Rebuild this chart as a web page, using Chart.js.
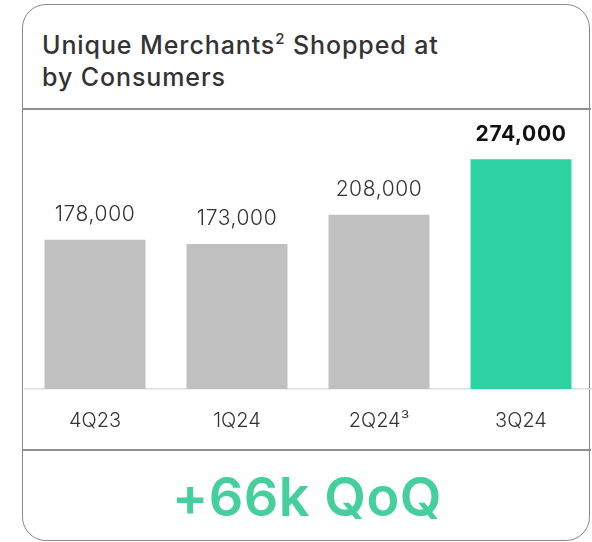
<!DOCTYPE html>
<html>
<head>
<meta charset="utf-8">
<script src="https://cdn.jsdelivr.net/npm/chart.js@4.4.1/dist/chart.umd.min.js"></script>
<style>
  html, body { margin:0; padding:0; background:#fff; width:592px; height:542px; overflow:hidden; }
  #card { position:absolute; left:22px; top:4px; width:566px; height:535px; border:1.5px solid #8a8a8a; border-radius:24px; box-sizing:content-box; }
  #title { position:absolute; left:42px; top:29px; font-family:Inter, sans-serif; font-size:25px; font-weight:500; line-height:32px; color:#333; letter-spacing:0.9px; }
  #title sup { font-size:15px; vertical-align:10px; line-height:0; }
  .div { position:absolute; left:23px; width:568px; height:1.5px; background:#8f8f8f; }
  #wrap { position:absolute; left:24px; top:109px; width:568px; height:340px; }
  #big { position:absolute; left:22px; width:570px; top:466px; text-align:center; font-family:Inter, sans-serif; font-size:54px; font-weight:600; color:#45cf9c; line-height:62px; letter-spacing:0.5px; }
</style>
</head>
<body>
<div id="card"></div>
<div id="title">Unique Merchants<sup>2</sup> Shopped at<br>by Consumers</div>
<div class="div" style="top:108px"></div>
<div class="div" style="top:449px"></div>
<div id="wrap"><canvas id="c"></canvas></div>
<div id="big">+66k QoQ</div>
<script>
const categories = ["4Q23", "1Q24", "2Q24\u00B3", "3Q24"];
const merchants = [178000, 173000, 208000, 274000];
const valueLabels = ["178,000", "173,000", "208,000", "274,000"];
const barColors = ["#c0c0c0", "#c0c0c0", "#c0c0c0", "#2fd3a3"];

const valuePlugin = {
  id: 'valueLabels',
  afterDatasetsDraw(chart) {
    const ctx = chart.ctx;
    const meta = chart.getDatasetMeta(0);
    meta.data.forEach((bar, i) => {
      const last = i === merchants.length - 1;
      ctx.save();
      ctx.font = (last ? '700 ' : '300 ') + '21px Inter, sans-serif';
      ctx.letterSpacing = '0.6px';
      ctx.fillStyle = last ? '#111' : '#333';
      ctx.textAlign = 'center';
      ctx.textBaseline = 'middle';
      ctx.fillText(valueLabels[i], bar.x, bar.y - 25);
      ctx.restore();
    });
  }
};

new Chart(document.getElementById('c'), {
  type: 'bar',
  data: {
    labels: categories,
    datasets: [{
      data: merchants,
      backgroundColor: barColors,
      borderWidth: 0,
      barPercentage: 0.711,
      categoryPercentage: 1.0
    }]
  },
  options: {
    responsive: true,
    maintainAspectRatio: false,
    animation: false,
    layout: { padding: 0 },
    plugins: { legend: { display: false }, tooltip: { enabled: false } },
    scales: {
      x: {
        grid: { display: false },
        border: { display: true, color: '#dddddd', width: 1.5 },
        ticks: { color: '#333', font: { family: 'Inter, sans-serif', size: 20, weight: '300' }, padding: 12 },
        afterFit(scale) { scale.height = 60; }
      },
      y: { display: false, min: 0, max: 334000 }
    }
  },
  plugins: [valuePlugin]
});
</script>
</body>
</html>
